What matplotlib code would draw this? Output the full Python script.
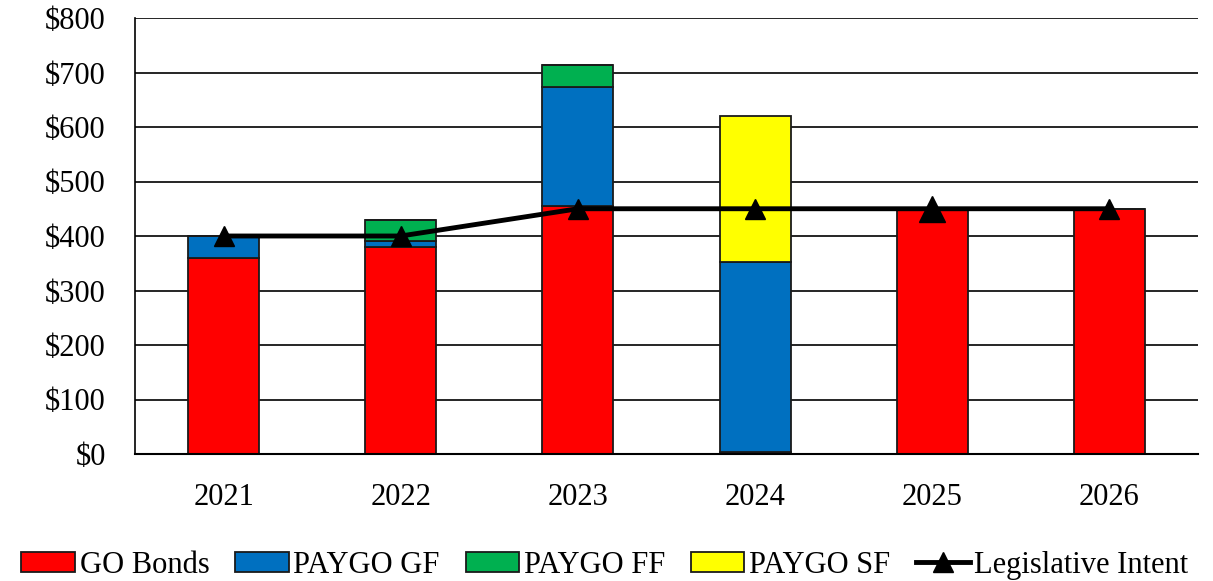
import matplotlib
matplotlib.use("Agg")
import matplotlib.pyplot as plt
import numpy as np

years = ["2021", "2022", "2023", "2024", "2025", "2026"]
go_bonds = [360, 380, 455, 4, 448, 450]
paygo_gf = [40, 10, 218, 348, 0, 0]
paygo_ff = [0, 40, 40, 0, 0, 0]
paygo_sf = [0, 0, 0, 268, 0, 0]
legislative_intent = [400, 400, 450, 450, 450, 450]

plt.rcParams["font.family"] = ["Liberation Serif", "DejaVu Serif"]

fig = plt.figure(figsize=(12.13, 5.81), dpi=100)
ax = fig.add_axes([135 / 1213, 1 - 454 / 581, (1198 - 135) / 1213, (454 - 18) / 581])

x = np.arange(len(years))
w = 0.4
bottom = np.zeros(len(years))
series = [
    (go_bonds, "GO Bonds", "#ff0000"),
    (paygo_gf, "PAYGO GF", "#0070c0"),
    (paygo_ff, "PAYGO FF", "#00b050"),
    (paygo_sf, "PAYGO SF", "#ffff00"),
]
handles = []
for vals, label, color in series:
    vals = np.array(vals, dtype=float)
    b = ax.bar(x, vals, w, bottom=bottom, color=color, edgecolor="#1a1a1a", linewidth=1.3,
               label=label, zorder=2)
    handles.append(b)
    bottom += vals

line, = ax.plot(x, legislative_intent, color="black", lw=3.5, marker="^", ms=14,
                label="Legislative Intent", zorder=3)
handles.append(line)
# the 2025 marker is drawn larger in the original
ax.plot(x[4], legislative_intent[4], color="black", marker="^", ms=19, ls="none", zorder=3)

ax.set_xlim(-0.5, 5.5)
ax.set_ylim(0, 800)
ax.set_yticks(range(0, 801, 100))
ax.set_yticklabels([f"${v}" for v in range(0, 801, 100)])
ax.set_xticks(x)
ax.set_xticklabels(years)
ax.tick_params(axis="both", labelsize=22, length=0)
ax.tick_params(axis="x", pad=21)
ax.tick_params(axis="y", pad=21)
ax.yaxis.grid(True, color="black", lw=1.2)
ax.set_axisbelow(True)
for s in ("top", "right"):
    ax.spines[s].set_visible(False)
ax.spines["left"].set_linewidth(1.2)
ax.spines["bottom"].set_linewidth(1.5)

ax.legend(handles=handles, loc="center", bbox_to_anchor=(0.442, -0.255), ncol=5, frameon=False,
          fontsize=22, handlelength=1.75, handleheight=0.6, handletextpad=0.15, columnspacing=0.85)

fig.savefig("out.png", dpi=100)
